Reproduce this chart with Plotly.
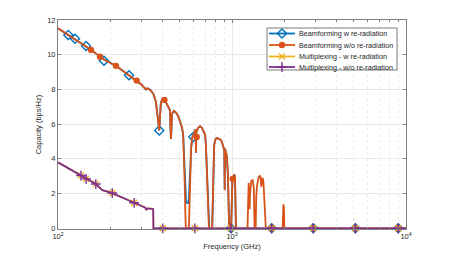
import plotly.graph_objects as go

# ---------------- data ----------------
freq_bf_wo = [100, 114.6, 125.2, 144.9, 154.7, 174.3, 183.8, 215.4, 255.9, 283.3, 300, 312, 320, 326, 338, 345,
              355, 365, 372, 378, 382, 386, 390, 396, 403, 412, 420, 430, 440, 444, 446, 448, 452, 464, 478,
              491, 505, 516, 524, 530, 535, 540, 543, 565, 570, 575, 582, 590, 599, 610, 618, 621, 624, 640,
              655, 670, 685, 700, 708, 715, 722, 730, 737, 768, 772, 778, 790, 805, 817, 840, 860, 873, 885,
              895, 903, 908, 912, 916, 925, 935, 948, 956, 963, 988, 995, 1005, 1017, 1030, 1040, 1048, 1054,
              1228, 1238, 1247, 1256, 1262, 1270, 1290, 1315, 1335, 1348, 1368, 1378, 1392, 1420, 1445, 1462,
              1472, 1485, 1500, 1515, 1535, 1555, 1565, 1955, 1962, 1975, 1990, 1998, 10000]
cap_bf_wo = [11.52, 11.14, 10.92, 10.5, 10.28, 9.89, 9.72, 9.36, 8.82, 8.51, 8.3, 8.12, 8.0, 8.06, 7.98, 7.88,
             7.7, 7.3, 6.6, 5.95, 5.64, 6.5, 7.2, 7.42, 7.46, 7.38, 7.2, 7.02, 6.8, 5.6, 5.15, 5.6, 6.6, 6.77, 6.65,
             6.45, 6.1, 5.8, 5.4, 4.2, 2.5, 0.6, 0.0, 0.0, 1.5, 3.2, 4.6, 5.2, 5.4, 5.6, 5.7, 4.35, 5.55, 5.8,
             5.87, 5.8, 5.6, 5.4, 4.8, 3.5, 2.0, 0.5, 0.0, 0.0, 1.0, 3.5, 4.8, 5.15, 5.2, 5.15, 5.1, 5.0, 4.8,
             4.6, 4.5, 2.2, 4.6, 4.5, 4.35, 4.1, 3.0, 1.2, 0.0, 0.0, 1.5, 2.7, 2.95, 3.1, 3.0, 2.0, 0.0,
             0.0, 2.3, 2.62, 1.8, 1.1, 2.0, 2.72, 2.77, 2.3, 0.0, 0.0, 1.8, 2.45, 2.9, 3.04, 2.9,
             2.4, 2.6, 2.9, 2.7, 1.8, 0.5, 0.0, 0.0, 1.1, 1.38, 1.2, 0.0, 0.0]

# Beamforming with re-radiation: same as above except where it shows through
freq_bf_w = [100, 114.6, 125.2, 144.9, 154.7, 174.3, 183.8, 215.4, 255.9, 283.3, 300, 312, 320, 326, 338, 345,
             355, 365, 372, 378, 382, 386, 390, 396, 403, 412, 420, 430, 440, 444, 446, 448, 452, 464, 478,
             491, 505, 516, 524, 530, 535, 540, 545, 560, 566, 572, 575, 582, 590, 599, 610, 618, 621, 624, 640,
             655, 670, 685, 700, 708, 715, 722, 730, 740, 770, 774, 778, 790, 805, 817, 840, 860, 873, 885,
             895, 903, 908, 912, 916, 925, 935, 948, 956, 963, 988, 995, 1005, 1017, 1030, 1040, 1048, 1054,
             10000]
cap_bf_w = [11.52, 11.14, 10.92, 10.5, 10.28, 9.89, 9.72, 9.36, 8.82, 8.51, 8.3, 8.12, 8.0, 8.06, 7.98, 7.88,
            7.7, 7.3, 6.6, 5.95, 5.64, 6.5, 7.2, 7.42, 7.46, 7.38, 7.2, 7.02, 6.8, 5.6, 5.15, 5.6, 6.6, 6.77, 6.65,
            6.45, 6.1, 5.8, 5.4, 4.2, 2.5, 1.6, 1.47, 1.47, 1.7, 3.0, 3.2, 4.6, 5.2, 5.4, 5.6, 5.7, 4.35, 5.55, 5.8,
            5.87, 5.8, 5.6, 5.4, 4.8, 3.5, 2.0, 0.5, 0.0, 0.0, 1.2, 3.5, 4.8, 5.15, 5.2, 5.15, 5.1, 5.0, 4.8,
            4.6, 4.5, 2.2, 4.6, 4.5, 4.35, 4.1, 3.0, 1.2, 0.0, 0.0, 1.5, 2.7, 2.95, 3.1, 3.0, 2.0, 0.0,
            0.0]

freq_mx = [100, 135.5, 145, 165, 180, 186, 195, 205, 240, 274, 300, 316, 322, 326, 350, 352.5, 353.5, 10000]
cap_mx_wo = [3.8, 3.04, 2.85, 2.55, 2.2, 2.14, 2.1, 2.03, 1.75, 1.47, 1.3, 1.2, 1.08, 1.15, 1.12, 1.1, 0.0, 0.0]
cap_mx_w = [3.8, 3.04, 2.85, 2.55, 2.2, 2.14, 2.1, 2.03, 1.75, 1.47, 1.3, 1.2, 1.08, 1.15, 1.12, 1.1, 0.0, 0.0]

# marker positions
mk_bf_w_f = [114.6, 125.2, 144.9, 183.8, 255.9, 382, 599, 987, 1690, 2930, 5117, 9030]
mk_bf_w_c = [11.14, 10.92, 10.5, 9.65, 8.82, 5.64, 5.26, 0, 0, 0, 0, 0]
mk_bf_wo_f = [154.7, 174.3, 215.4, 283.3, 409, 627, 1009, 1690, 2930, 5117, 9030]
mk_bf_wo_c = [10.28, 9.89, 9.36, 8.51, 7.4, 5.26, 2.85, 0, 0, 0, 0]
mk_mx_f = [135.5, 145, 165, 205, 274, 400, 612, 985, 1690, 2930, 5117, 9030]
mk_mx_w_c = [3.04, 2.85, 2.55, 2.03, 1.47, 0, 0, 0, 0, 0, 0, 0]
mk_mx_wo_c = [3.04, 2.85, 2.55, 2.03, 1.47, 0, 0, 0, 0, 0, 0, 0]

series_names = ["Beamforming w re-radiation", "Beamforming w/o re-radiation",
                "Multiplexing - w re-radiation", "Multiplexing - w/o re-radiation"]
x_tick_vals = [100, 1000, 10000]
x_tick_text = ["10<sup>2</sup>", "10<sup>3</sup>", "10<sup>4</sup>"]
y_tick_vals = [0, 2, 4, 6, 8, 10, 12]

# ---------------- styling ----------------
C_BLUE, C_ORANGE, C_YELLOW, C_PURPLE = "#0072BD", "#D95319", "#EDB120", "#7E2F8E"
TXT = "#262626"
FONT = "Liberation Sans, Arial, sans-serif"
LW = 1.8

styles = [
    dict(color=C_BLUE, symbol="diamond-open", size=7),
    dict(color=C_ORANGE, symbol="circle", size=5),
    dict(color=C_YELLOW, symbol="x-thin-open", size=6),
    dict(color=C_PURPLE, symbol="cross-thin-open", size=7),
]

def mk(st):
    return dict(color=st["color"], symbol=st["symbol"], size=st["size"],
                line=dict(color=st["color"], width=1.4))

fig = go.Figure()

lines = [(freq_bf_w, cap_bf_w), (freq_bf_wo, cap_bf_wo), (freq_mx, cap_mx_w), (freq_mx, cap_mx_wo)]
marks = [(mk_bf_w_f, mk_bf_w_c), (mk_bf_wo_f, mk_bf_wo_c), (mk_mx_f, mk_mx_w_c), (mk_mx_f, mk_mx_wo_c)]

for i in range(4):
    fx, fy = lines[i]
    fig.add_trace(go.Scatter(x=fx, y=fy, mode="lines", name=series_names[i],
                             line=dict(color=styles[i]["color"], width=LW), showlegend=False))
    mx, my = marks[i]
    fig.add_trace(go.Scatter(x=mx, y=my, mode="markers", marker=mk(styles[i]),
                             showlegend=False, cliponaxis=False))

# ---------------- manual compact legend (page-pixel overlay axes) ----------------
LX0, LX1, LY0, LY1 = 267, 397, 28, 70
fig.add_trace(go.Scatter(x=[LX0, LX1, LX1, LX0, LX0], y=[LY0, LY0, LY1, LY1, LY0], mode="lines",
                         fill="toself", fillcolor="white", line=dict(color="#5a5a5a", width=0.8),
                         xaxis="x2", yaxis="y2", showlegend=False, hoverinfo="skip"))
entry_y = [33.5, 45, 56.5, 67]
for i in range(4):
    ey = entry_y[i]
    fig.add_trace(go.Scatter(x=[269, 295], y=[ey, ey], mode="lines",
                             line=dict(color=styles[i]["color"], width=LW),
                             xaxis="x2", yaxis="y2", showlegend=False, hoverinfo="skip"))
    fig.add_trace(go.Scatter(x=[282], y=[ey], mode="markers", marker=mk(styles[i]),
                             xaxis="x2", yaxis="y2", showlegend=False, hoverinfo="skip"))
    fig.add_annotation(x=297, y=ey, xref="x2", yref="y2", text=series_names[i], showarrow=False,
                       xanchor="left", yanchor="middle", font=dict(family=FONT, size=7.2, color=TXT))

axis_common = dict(showline=True, linecolor="#808080", linewidth=1, mirror="ticks",
                   ticks="inside", ticklen=3, tickcolor="#808080",
                   tickfont=dict(family=FONT, size=7.5, color=TXT),
                   showgrid=True, gridcolor="#e8e8e8", gridwidth=1, zeroline=False)

# page has an 8px body margin; plot area targeted at page x 58..406, y 20..229
fig.update_layout(
    width=449, height=257,
    margin=dict(l=50, r=51, t=12, b=36, pad=0),
    paper_bgcolor="white", plot_bgcolor="white",
    showlegend=False,
    xaxis=dict(type="log", range=[2, 4], tickvals=x_tick_vals, ticktext=x_tick_text,
               title=dict(text="Frequency (GHz)", font=dict(family=FONT, size=7.5, color=TXT), standoff=3),
               minor=dict(tickvals=[200, 300, 400, 500, 600, 700, 800, 900,
                                    2000, 3000, 4000, 5000, 6000, 7000, 8000, 9000],
                          ticks="inside", ticklen=2, tickcolor="#808080",
                          showgrid=True, gridcolor="#ececec", griddash="dot", gridwidth=1),
               automargin=False, **axis_common),
    yaxis=dict(range=[-0.04, 12], tickvals=y_tick_vals,
               title=dict(text="Capacity (bps/Hz)", font=dict(family=FONT, size=7.5, color=TXT), standoff=4),
               automargin=False, **axis_common),
    xaxis2=dict(overlaying="x", range=[58, 406], visible=False, fixedrange=True),
    yaxis2=dict(overlaying="y", range=[229, 20], visible=False, fixedrange=True),
)

fig.write_html("out.html")
